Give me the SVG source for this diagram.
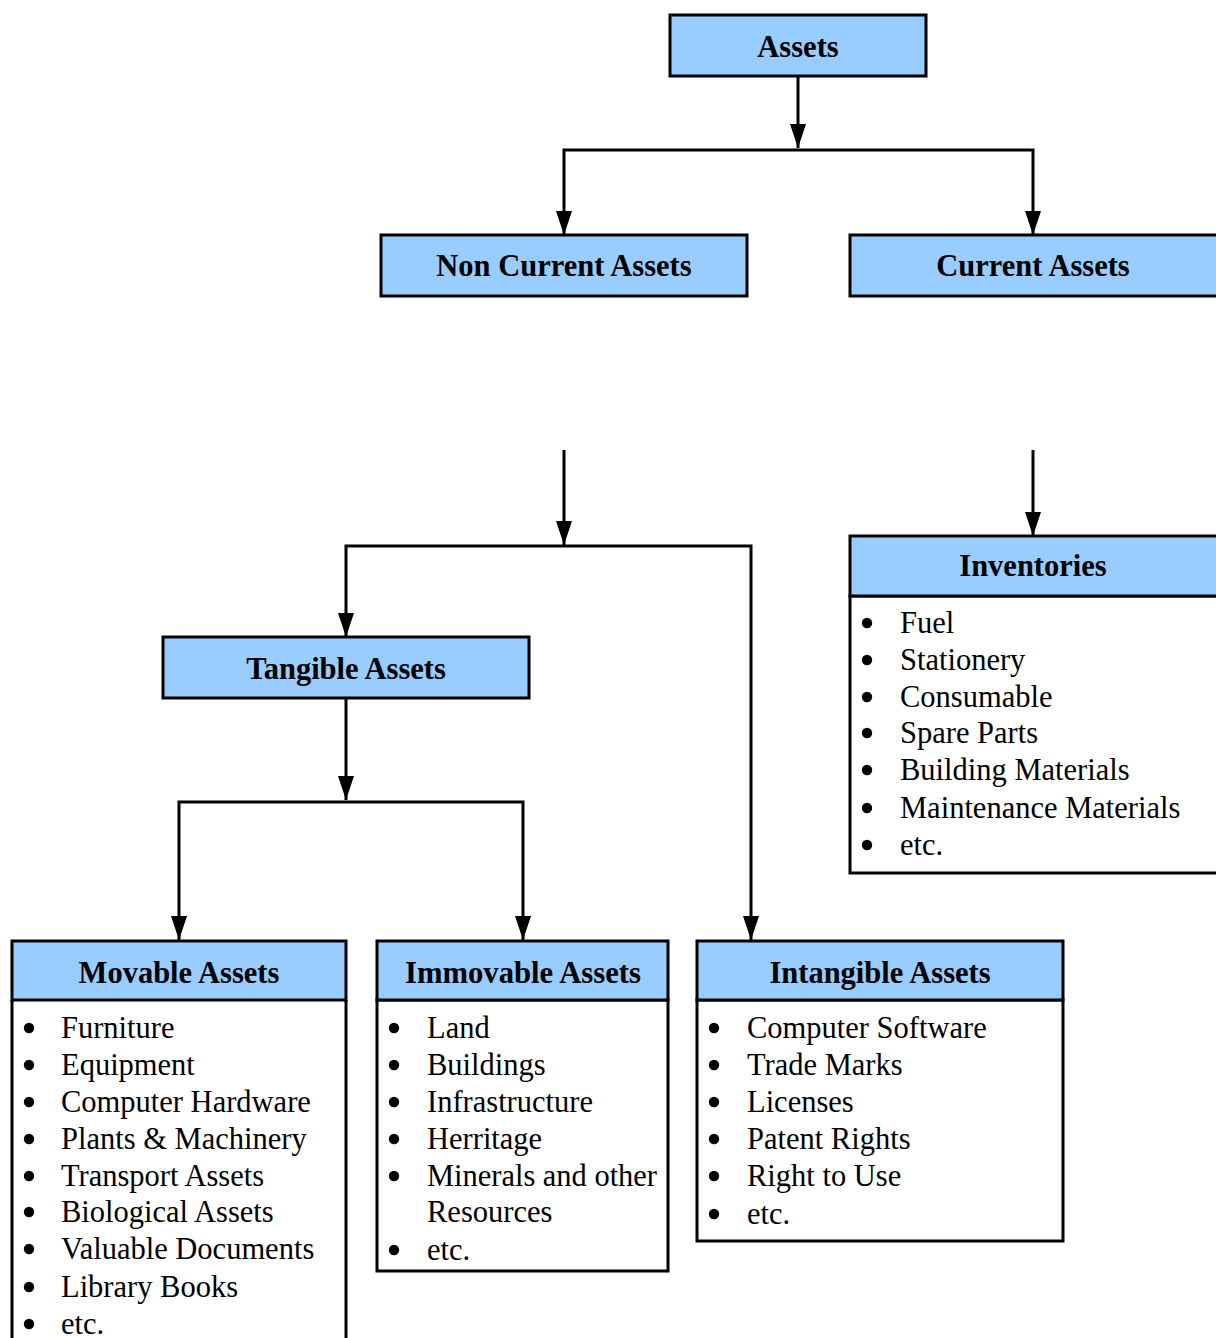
<svg xmlns="http://www.w3.org/2000/svg" width="1216" height="1338" viewBox="0 0 1216 1338">
<defs>
<marker id="arr" markerWidth="24" markerHeight="16" refX="24" refY="8" orient="auto-start-reverse" markerUnits="userSpaceOnUse" viewBox="0 0 24 16"><path d="M0,0 L24,8 L0,16 Z" fill="#000"/></marker>
<style>
.hd{fill:#99CCFF;stroke:#000;stroke-width:3}
.bx{fill:#fff;stroke:#000;stroke-width:3}
.ht{font-family:"Liberation Serif","Times New Roman",serif;font-weight:bold;font-size:30.5px;text-anchor:middle;fill:#000}
.it{font-family:"Liberation Serif","Times New Roman",serif;font-size:30.5px;fill:#000}
.ln{fill:none;stroke:#000;stroke-width:3}
.bu circle{fill:#000;r:5.2px}
</style>
</defs>
<rect width="1216" height="1338" fill="#fff"/>
<g id="connectors">
<path class="ln" d="M798,76 V148" marker-end="url(#arr)"/>
<path class="ln" d="M564,235 V150 H1033 V235" marker-start="url(#arr)" marker-end="url(#arr)"/>
<path class="ln" d="M564,450 V545" marker-end="url(#arr)"/>
<path class="ln" d="M346,637 V546 H751 V940" marker-start="url(#arr)" marker-end="url(#arr)"/>
<path class="ln" d="M1033,450 V536" marker-end="url(#arr)"/>
<path class="ln" d="M346,698 V800" marker-end="url(#arr)"/>
<path class="ln" d="M179,940 V802 H523 V940" marker-start="url(#arr)" marker-end="url(#arr)"/>
</g>
<g id="assets">
<rect class="hd" x="670" y="15" width="256" height="61"/>
<text class="ht" x="798" y="57">Assets</text>
</g>
<g id="non-current">
<rect class="hd" x="381" y="235" width="366" height="61"/>
<text class="ht" x="564" y="276">Non Current Assets</text>
</g>
<g id="current">
<rect class="hd" x="850" y="235" width="368" height="61"/>
<text class="ht" x="1033" y="276">Current Assets</text>
</g>
<g id="tangible">
<rect class="hd" x="163" y="637" width="366" height="61"/>
<text class="ht" x="346" y="679">Tangible Assets</text>
</g>
<g id="inventories">
<rect class="bx" x="850" y="596" width="368" height="277"/>
<rect class="hd" x="850" y="536" width="368" height="60"/>
<text class="ht" x="1033" y="576">Inventories</text>
<g class="bu"><circle cx="867" cy="623" r="5.2"/><circle cx="867" cy="660" r="5.2"/><circle cx="867" cy="697" r="5.2"/><circle cx="867" cy="733" r="5.2"/><circle cx="867" cy="770" r="5.2"/><circle cx="867" cy="808" r="5.2"/><circle cx="867" cy="845" r="5.2"/></g>
<text class="it" x="900" y="633">Fuel</text>
<text class="it" x="900" y="670">Stationery</text>
<text class="it" x="900" y="707">Consumable</text>
<text class="it" x="900" y="743">Spare Parts</text>
<text class="it" x="900" y="780">Building Materials</text>
<text class="it" x="900" y="818">Maintenance Materials</text>
<text class="it" x="900" y="855">etc.</text>
</g>
<g id="movable">
<path class="ln" d="M12,1000 V1340 M346,1000 V1340"/>
<rect class="hd" x="12" y="941" width="334" height="59"/>
<text class="ht" x="179" y="983">Movable Assets</text>
<g class="bu"><circle cx="29" cy="1028" r="5.2"/><circle cx="29" cy="1065" r="5.2"/><circle cx="29" cy="1102" r="5.2"/><circle cx="29" cy="1139" r="5.2"/><circle cx="29" cy="1176" r="5.2"/><circle cx="29" cy="1212" r="5.2"/><circle cx="29" cy="1249" r="5.2"/><circle cx="29" cy="1287" r="5.2"/><circle cx="29" cy="1324" r="5.2"/></g>
<text class="it" x="61" y="1038">Furniture</text>
<text class="it" x="61" y="1075">Equipment</text>
<text class="it" x="61" y="1112">Computer Hardware</text>
<text class="it" x="61" y="1149">Plants &amp; Machinery</text>
<text class="it" x="61" y="1186">Transport Assets</text>
<text class="it" x="61" y="1222">Biological Assets</text>
<text class="it" x="61" y="1259">Valuable Documents</text>
<text class="it" x="61" y="1297">Library Books</text>
<text class="it" x="61" y="1334">etc.</text>
</g>
<g id="immovable">
<rect class="bx" x="377" y="1000" width="291" height="271"/>
<rect class="hd" x="377" y="941" width="291" height="59"/>
<text class="ht" x="523" y="983" textLength="236" lengthAdjust="spacingAndGlyphs">Immovable Assets</text>
<g class="bu"><circle cx="394" cy="1028" r="5.2"/><circle cx="394" cy="1065" r="5.2"/><circle cx="394" cy="1102" r="5.2"/><circle cx="394" cy="1139" r="5.2"/><circle cx="394" cy="1176" r="5.2"/><circle cx="394" cy="1250" r="5.2"/></g>
<text class="it" x="427" y="1038">Land</text>
<text class="it" x="427" y="1075">Buildings</text>
<text class="it" x="427" y="1112">Infrastructure</text>
<text class="it" x="427" y="1149">Herritage</text>
<text class="it" x="427" y="1186" textLength="230" lengthAdjust="spacingAndGlyphs">Minerals and other</text>
<text class="it" x="427" y="1222">Resources</text>
<text class="it" x="427" y="1260">etc.</text>
</g>
<g id="intangible">
<rect class="bx" x="697" y="1000" width="366" height="241"/>
<rect class="hd" x="697" y="941" width="366" height="59"/>
<text class="ht" x="880" y="983">Intangible Assets</text>
<g class="bu"><circle cx="714" cy="1028" r="5.2"/><circle cx="714" cy="1065" r="5.2"/><circle cx="714" cy="1102" r="5.2"/><circle cx="714" cy="1139" r="5.2"/><circle cx="714" cy="1176" r="5.2"/><circle cx="714" cy="1214" r="5.2"/></g>
<text class="it" x="747" y="1038">Computer Software</text>
<text class="it" x="747" y="1075">Trade Marks</text>
<text class="it" x="747" y="1112">Licenses</text>
<text class="it" x="747" y="1149">Patent Rights</text>
<text class="it" x="747" y="1186">Right to Use</text>
<text class="it" x="747" y="1224">etc.</text>
</g>
</svg>
